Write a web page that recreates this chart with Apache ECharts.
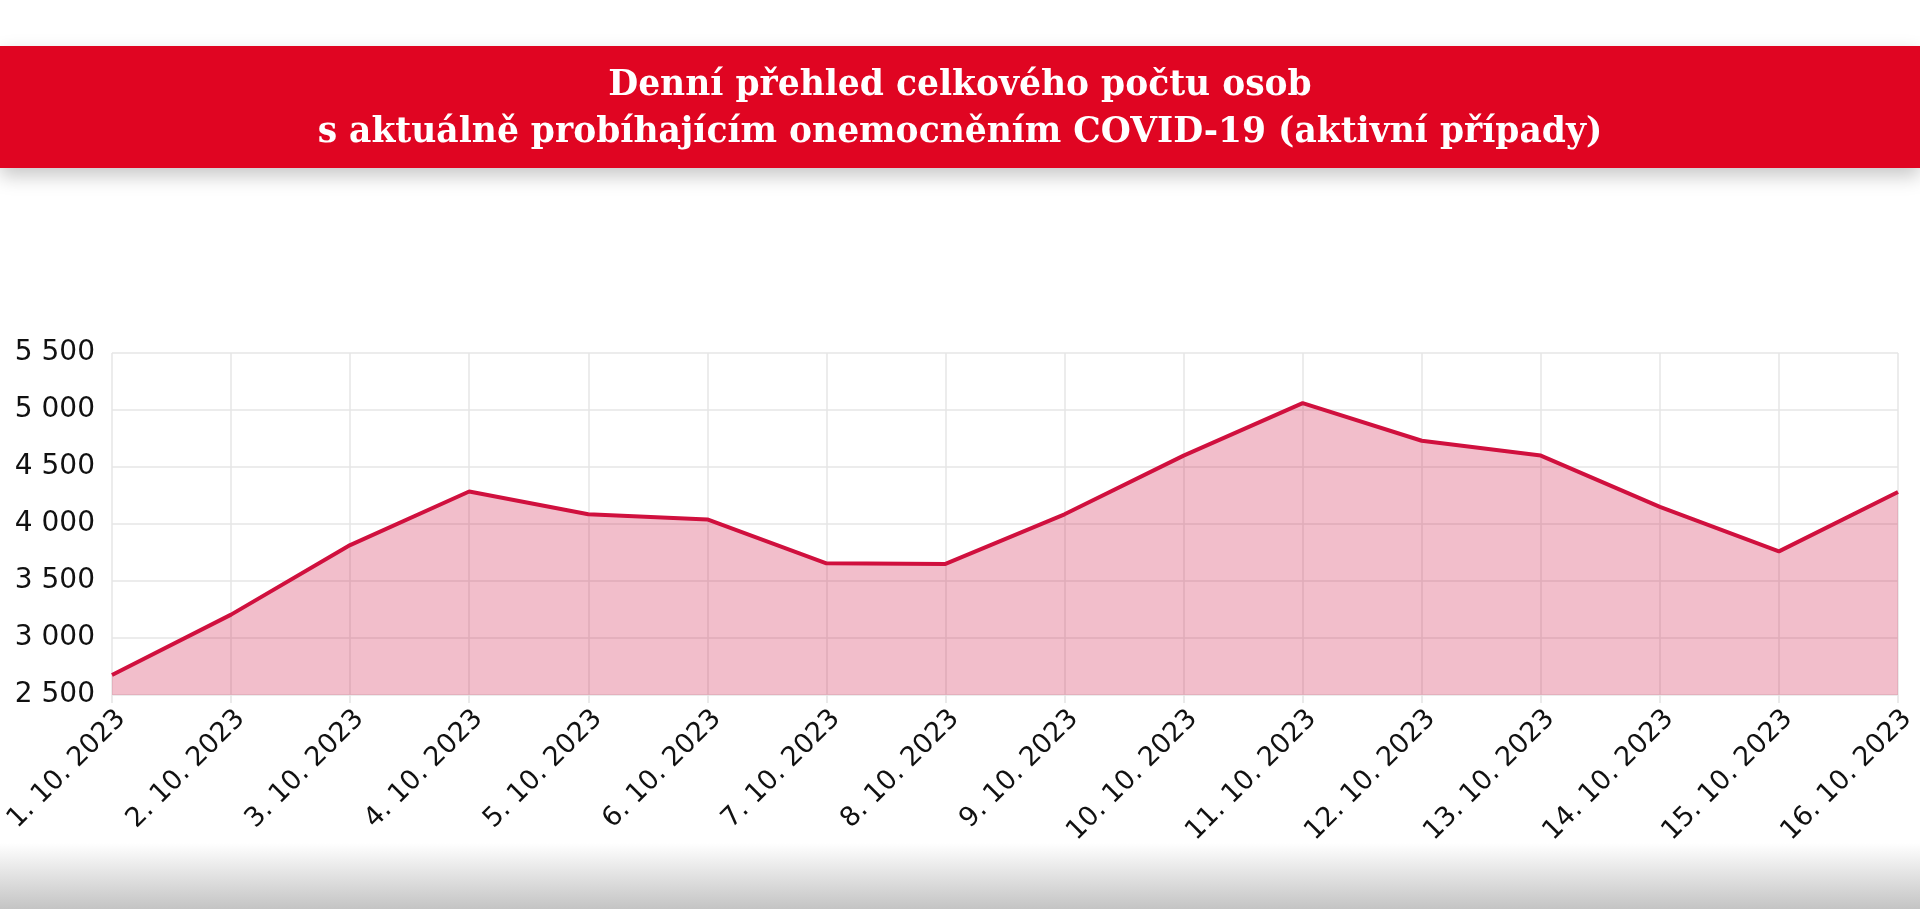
<!DOCTYPE html>
<html lang="cs">
<head>
    <meta charset="UTF-8">
    <title>Aktivní případy COVID-19</title>
    <script src="https://cdn.jsdelivr.net/npm/echarts@6/dist/echarts.min.js"></script>
    <style>
        html, body { margin: 0; padding: 0; background: #fff; }
        body { width: 1920px; height: 909px; position: relative; overflow: hidden; }
        /* červený pruh s nadpisem */
        .banner {
            position: absolute; left: 0; top: 46px; width: 1920px; height: 122px;
            background: #e00522; z-index: 2;
            box-shadow: 0 8px 18px rgba(0,0,0,.22);
            color: #fff; text-align: center;
            font-family: "DejaVu Serif", serif; font-weight: bold; font-size: 34.5px; line-height: 47px;
            padding-top: 14px; box-sizing: border-box;
        }
        #chart { position: absolute; left: 0; top: 0; width: 1920px; height: 909px; z-index: 1; }
        .bottom-fade {
            position: absolute; left: 0; bottom: 0; width: 1920px; height: 66px; z-index: 0;
            background: linear-gradient(to bottom, #ffffff, #c4c4c4);
        }
    </style>
</head>
<body>
<div class="banner">Denní přehled celkového počtu osob<br>s aktuálně probíhajícím onemocněním COVID-19 (aktivní případy)</div>
<div class="bottom-fade"></div>
<div id="chart"></div>
<script>
    // dny
    var days = ['1. 10. 2023', '2. 10. 2023', '3. 10. 2023', '4. 10. 2023', '5. 10. 2023', '6. 10. 2023',
        '7. 10. 2023', '8. 10. 2023', '9. 10. 2023', '10. 10. 2023', '11. 10. 2023', '12. 10. 2023',
        '13. 10. 2023', '14. 10. 2023', '15. 10. 2023', '16. 10. 2023'];
    // aktivní případy
    var activeCases = [2675, 3205, 3815, 4285, 4085, 4040, 3655, 3650, 4085, 4600, 5060, 4730, 4600, 4150, 3760, 4280];
    // osa y
    var yMin = 2500, yMax = 5500, yStep = 500;

    var chart = echarts.init(document.getElementById('chart'), null, {renderer: 'canvas'});
    var labelFont = '"DejaVu Sans", sans-serif';

    chart.setOption({
        backgroundColor: 'transparent',
        animation: false,
        grid: {left: 112, right: 22, top: 353, bottom: 214, containLabel: false},
        xAxis: {
            type: 'category',
            boundaryGap: false,
            data: days,
            axisLine: {show: false},
            axisTick: {show: true, length: 8, lineStyle: {color: '#e4e4e4', width: 1.5}},
            splitLine: {show: true, lineStyle: {color: '#e6e6e6', width: 1.5}},
            axisLabel: {
                rotate: 45, margin: 10, interval: 0, verticalAlign: 'top',
                color: '#111', fontSize: 27, fontFamily: labelFont
            }
        },
        yAxis: {
            type: 'value',
            min: yMin, max: yMax, interval: yStep,
            axisLine: {show: false},
            axisTick: {show: false},
            splitLine: {show: true, lineStyle: {color: '#e6e6e6', width: 1.5}},
            axisLabel: {
                margin: 17, color: '#111', fontSize: 28, fontFamily: labelFont,
                formatter: function (v) {
                    return String(v).replace(/\B(?=(\d{3})+(?!\d))/g, ' ');
                }
            }
        },
        series: [{
            name: 'Aktivní případy',
            type: 'line',
            data: activeCases,
            symbol: 'none',
            lineStyle: {color: '#d0103e', width: 4},
            areaStyle: {color: 'rgba(208,16,62,0.27)', opacity: 1}
        }]
    });
</script>
</body>
</html>
